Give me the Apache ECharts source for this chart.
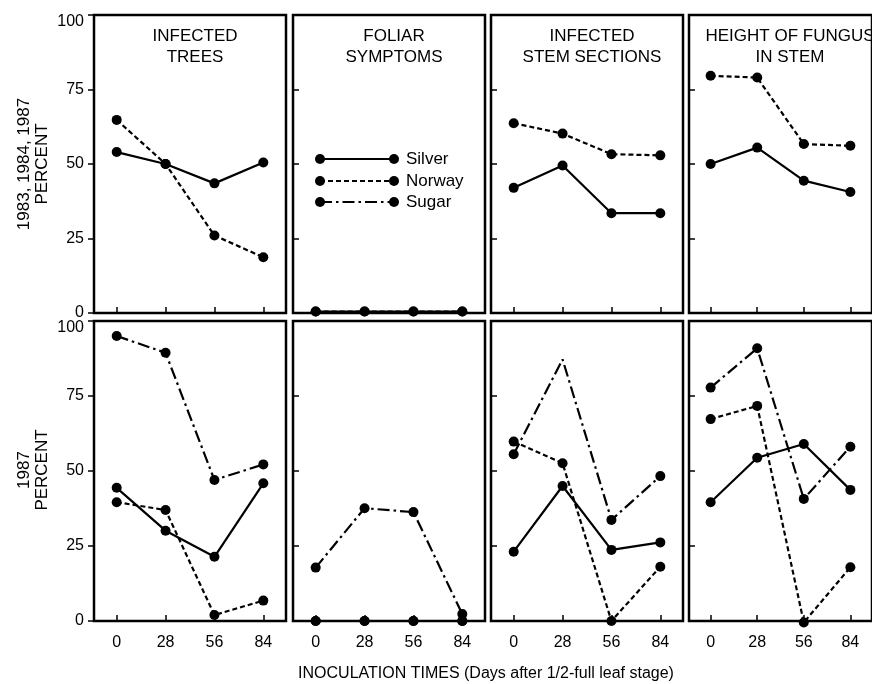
<!DOCTYPE html>
<html>
<head>
<meta charset="utf-8">
<script src="https://cdn.jsdelivr.net/npm/echarts@6/dist/echarts.min.js"></script>
<style>html,body{margin:0;padding:0;background:#fff;}#c{width:872px;height:684px;}</style>
</head>
<body>
<div id="c"></div>
<script>
// ---- data ----
const days = [0, 28, 56, 84];
const yTicks = [0, 25, 50, 75, 100];
const panelTitles = ['INFECTED\nTREES', 'FOLIAR\nSYMPTOMS', 'INFECTED\nSTEM SECTIONS', 'HEIGHT OF FUNGUS\nIN STEM'];
const rowTitles = ['1983, 1984, 1987\nPERCENT', '1987\nPERCENT'];
const xAxisTitle = 'INOCULATION TIMES (Days after 1/2-full leaf stage)';
const speciesNames = ['Silver', 'Norway', 'Sugar'];

// 1983, 1984, 1987 (top row)
const treesSilverAll = [54, 50, 43.5, 50.5];
const treesNorwayAll = [64.8, 50, 26, 18.7];
const foliarSilverAll = [0.5, 0.5, 0.5, 0.5];
const foliarNorwayAll = [0.5, 0.5, 0.5, 0.5];
const stemSilverAll = [42, 49.5, 33.5, 33.5];
const stemNorwayAll = [63.7, 60.2, 53.3, 52.9];
const heightSilverAll = [50, 55.5, 44.4, 40.6];
const heightNorwayAll = [79.6, 79, 56.7, 56.1];

// 1987 (bottom row)
const treesSilver87 = [44.4, 30.1, 21.4, 45.9];
const treesNorway87 = [39.6, 37, 2, 6.8];
const treesSugar87 = [95, 89.4, 47, 52.2];
const foliarSilver87 = [0, 0, 0, 0];
const foliarNorway87 = [0, 0, 0, 0];
const foliarSugar87 = [17.8, 37.6, 36.3, 2.3];
const stemSilver87 = [23.1, 45, 23.7, 26.2];
const stemNorway87 = [59.8, 52.6, 0, 18.1];
const stemSugar87 = [55.6, 87.2, 33.7, 48.3];
const heightSilver87 = [39.6, 54.4, 59, 43.7];
const heightNorway87 = [67.3, 71.7, -0.5, 17.9];
const heightSugar87 = [77.8, 90.9, 40.7, 58.1];

// ---- layout / styles ----
const FONT = 'Liberation Sans, Arial, sans-serif';
const colLeft = [94, 293, 491, 689];
const colW = 192;
const rowTop = [15, 321];
const rowH = [298, 300];
const lineTypes = {
  Silver: 'solid',
  Norway: [5, 3],
  Sugar: [12, 4, 2.5, 4]
};

const rows = [
  [ {Silver: treesSilverAll, Norway: treesNorwayAll},
    {Silver: foliarSilverAll, Norway: foliarNorwayAll},
    {Silver: stemSilverAll, Norway: stemNorwayAll},
    {Silver: heightSilverAll, Norway: heightNorwayAll} ],
  [ {Silver: treesSilver87, Norway: treesNorway87, Sugar: treesSugar87},
    {Silver: foliarSilver87, Norway: foliarNorway87, Sugar: foliarSugar87},
    {Silver: stemSilver87, Norway: stemNorway87, Sugar: stemSugar87},
    {Silver: heightSilver87, Norway: heightNorway87, Sugar: heightSugar87} ]
];

const grid = [], xAxis = [], yAxis = [], series = [], title = [];
let gi = 0;
for (let r = 0; r < 2; r++) {
  for (let c = 0; c < 4; c++) {
    grid.push({left: colLeft[c], top: rowTop[r], width: colW, height: rowH[r],
      show: true, borderColor: '#000', borderWidth: 2.5, backgroundColor: 'transparent'});
    xAxis.push({
      type: 'value', gridIndex: gi, min: -13, max: 97,
      axisLine: {show: false, onZero: false},
      splitLine: {show: false},
      axisTick: {show: true, inside: true, length: 6, customValues: days, lineStyle: {color: '#000', width: 1.5}},
      axisLabel: {show: r === 1, customValues: days, color: '#000', fontFamily: FONT, fontSize: 16, margin: 14}
    });
    yAxis.push({
      type: 'value', gridIndex: gi, min: 0, max: 100, interval: 25,
      axisLine: {show: false, onZero: false},
      splitLine: {show: false},
      axisTick: {show: true, inside: c !== 0, length: 6, lineStyle: {color: '#000', width: 1.5}},
      axisLabel: {show: c === 0, color: '#000', fontFamily: FONT, fontSize: 16, margin: 10,
        formatter: v => !yTicks.includes(v) ? '' : (v === 100 ? '{top|' + v + '}' : String(v)),
        rich: {top: {fontFamily: FONT, fontSize: 16, color: '#000', padding: [13, 0, 0, 0]}}}
    });
    const panel = rows[r][c];
    speciesNames.forEach(name => {
      const vals = panel[name];
      if (!vals) return;
      const data = vals.map((v, i) => {
        const item = {value: [days[i], v]};
        if (r === 1 && c === 2 && name === 'Sugar' && i === 1) item.symbol = 'none';
        return item;
      });
      series.push({
        type: 'line', name: name, xAxisIndex: gi, yAxisIndex: gi, data: data,
        clip: false, symbol: 'circle', symbolSize: 10, showSymbol: true,
        itemStyle: {color: '#000'},
        lineStyle: {color: '#000', width: 2.2, type: lineTypes[name]},
        z: name === 'Norway' ? 4 : 3,
        animation: false
      });
    });
    if (r === 0) {
      title.push({text: panelTitles[c], left: colLeft[c] + colW / 2, top: 21, textAlign: 'center',
        textStyle: {fontFamily: FONT, fontSize: 17, fontWeight: 'normal', color: '#000', lineHeight: 21}});
    }
    gi++;
  }
}

// legend drawn inside the FOLIAR SYMPTOMS panel
const legendY = [159, 181, 202];
const graphic = [];
speciesNames.forEach((name, i) => {
  const y = legendY[i];
  graphic.push({type: 'line', shape: {x1: 320, y1: y, x2: 394, y2: y},
    style: {stroke: '#000', lineWidth: 2.2, lineDash: lineTypes[name] === 'solid' ? null : lineTypes[name]}});
  graphic.push({type: 'circle', shape: {cx: 320, cy: y, r: 5}, style: {fill: '#000'}});
  graphic.push({type: 'circle', shape: {cx: 394, cy: y, r: 5}, style: {fill: '#000'}});
  graphic.push({type: 'text', x: 406, y: y, style: {text: name, font: '17px ' + FONT, fill: '#000', textVerticalAlign: 'middle'}});
});
// row titles (rotated)
[[33, 164, rowTitles[0]], [33, 470, rowTitles[1]]].forEach(([x, y, t]) => {
  graphic.push({type: 'text', x: x, y: y, rotation: Math.PI / 2,
    style: {text: t, font: '17px ' + FONT, fill: '#000', align: 'center', verticalAlign: 'middle', lineHeight: 18}});
});
graphic.push({type: 'text', x: 486, y: 674, style: {text: xAxisTitle, font: '16px ' + FONT, fill: '#000', align: 'center', verticalAlign: 'middle'}});

const chart = echarts.init(document.getElementById('c'), null, {renderer: 'canvas'});
chart.setOption({animation: false, backgroundColor: '#fff', grid, xAxis, yAxis, series, title, graphic});
</script>
</body>
</html>
